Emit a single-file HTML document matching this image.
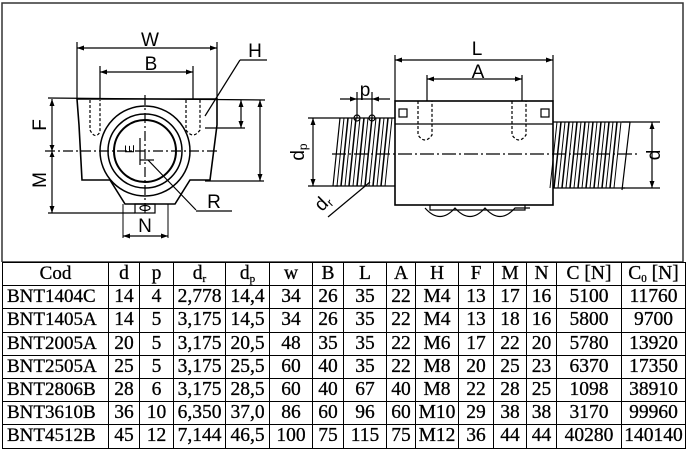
<!DOCTYPE html>
<html><head><meta charset="utf-8"><style>
html,body{margin:0;padding:0;background:#fff;width:686px;height:452px;overflow:hidden}
svg{position:absolute;left:0;top:0}
table{position:absolute;left:2px;top:262px;border-collapse:collapse;font-family:"Liberation Serif",serif;font-size:19.5px;color:#000;-webkit-text-stroke:0.3px #000}
td{border:1.3px solid #000;padding:0;height:22.2px;text-align:center;line-height:20px;white-space:nowrap}
td:first-child{text-align:left;padding-left:4px;font-size:19px}
sub{font-size:11px;vertical-align:-3px;line-height:0}
</style></head><body>
<svg width="686" height="262" viewBox="0 0 686 262" font-family="Liberation Sans, sans-serif">
<rect x="2" y="3" width="681" height="259" fill="none" stroke="#333" stroke-width="1.5"/>
<g stroke="#000" fill="none" stroke-width="1.2">
<line x1="77" y1="42" x2="77" y2="99"/><line x1="217" y1="42" x2="217" y2="99"/>
<line x1="77" y1="48" x2="217" y2="48"/>
<line x1="100" y1="66" x2="100" y2="99"/><line x1="193" y1="66" x2="193" y2="99"/>
<line x1="100" y1="72" x2="193" y2="72"/>
<line x1="48" y1="98" x2="265" y2="100"/>
<path d="M77 99 L217 99 L217 125 L210 180 L190 180 L175 204 L125 204 L110 180 L82 180 L79 125 Z" stroke-width="1.6"/>
<circle cx="145" cy="151" r="45" stroke-width="1.5"/>
<circle cx="145" cy="151" r="37" stroke-width="1.5"/>
<circle cx="145" cy="151" r="31" stroke-width="2"/>
<rect x="135" y="204" width="20" height="9"/>
<ellipse cx="145" cy="208" rx="5" ry="2.5"/>
<path d="M123 204 L123 238 M168 204 L168 238" stroke-width="1"/>
<line x1="123" y1="236" x2="168" y2="236"/>
<line x1="52" y1="99" x2="52" y2="213"/>
<line x1="48" y1="213" x2="135" y2="213"/>
<line x1="45" y1="151" x2="220" y2="151" stroke-dasharray="10 3 2 3"/>
<line x1="145" y1="95" x2="145" y2="215" stroke-dasharray="10 3 2 3"/>
<line x1="260" y1="100" x2="260" y2="181"/><line x1="205" y1="181" x2="264" y2="181"/>
<line x1="241" y1="100" x2="241" y2="128"/><line x1="205" y1="128" x2="245" y2="128"/>
<path d="M90 100 L90 130 Q95 140 100 132 L100 100 M186 100 L186 130 Q193 140 200 130 L200 100" stroke-dasharray="3 2"/>
<line x1="267" y1="60" x2="240" y2="60"/><line x1="240" y1="60" x2="205" y2="116"/>
<line x1="148" y1="160" x2="196" y2="210"/><line x1="196" y1="211" x2="232" y2="211"/>
<line x1="140" y1="160" x2="154" y2="160"/><line x1="140" y1="138" x2="140" y2="165"/>
<line x1="395" y1="55" x2="395" y2="101"/><line x1="553" y1="55" x2="553" y2="101"/>
<line x1="395" y1="60" x2="553" y2="60"/>
<line x1="427" y1="75" x2="427" y2="101"/><line x1="522" y1="75" x2="522" y2="101"/>
<line x1="427" y1="79" x2="522" y2="79"/>
<rect x="395" y="101" width="158" height="104" stroke-width="1.6"/>
<line x1="395" y1="124" x2="553" y2="124"/>
<path d="M418 101 L418 135 Q425 145 432 135 L432 101 M512 101 L512 135 Q519 145 526 135 L526 101" stroke-dasharray="3 2"/>
<line x1="332" y1="154" x2="640" y2="154" stroke-dasharray="14 3 2 3"/>
<path d="M340 118 L395 118 M335 186 L395 186 M553 122 L630 122 M553 188 L625 188"/>
<path d="M340 118 L333 186 M630 122 L622 190"/>
<path stroke-width="1.5" d="M348 118 L341 186 M356 118 L349 186 M364 118 L357 186 M372 118 L365 186 M380 118 L373 186 M388 118 L381 186 M561 122 L554 188 M569 122 L562 188 M577 122 L570 188 M585 122 L578 188 M593 122 L586 188 M601 122 L594 188 M609 122 L602 188 M617 122 L610 188"/>
<path stroke-width="1" d="M344 118 L337 186 M352 118 L345 186 M360 118 L353 186 M368 118 L361 186 M376 118 L369 186 M384 118 L377 186 M392 118 L385 186 M557 122 L550 188 M565 122 L558 188 M573 122 L566 188 M581 122 L574 188 M589 122 L582 188 M597 122 L590 188 M605 122 L598 188 M613 122 L606 188 M621 122 L614 188"/>
<line x1="313" y1="118" x2="313" y2="186"/><line x1="308" y1="118" x2="340" y2="118"/><line x1="308" y1="186" x2="338" y2="186"/>
<line x1="652" y1="122" x2="652" y2="188"/><line x1="622" y1="122" x2="660" y2="122"/><line x1="622" y1="188" x2="660" y2="188"/>
<line x1="340" y1="99" x2="390" y2="99"/><line x1="357" y1="92" x2="357" y2="118"/><line x1="372" y1="92" x2="372" y2="118"/>
<circle cx="357" cy="118" r="3"/><circle cx="372" cy="118" r="3"/>
<line x1="328" y1="217" x2="370" y2="182"/>
<path d="M425 208 Q440 225 455 208 Q470 225 485 208 Q500 225 515 208 L530 208"/>
<path d="M430 205 L430 210 L525 210 L525 205"/>
<rect x="399" y="109" width="8" height="8"/><rect x="541" y="109" width="8" height="8"/>
</g>
<g fill="#000">
<path d="M77 48 l7 -2.5 v5z M217 48 l-7 -2.5 v5z M100 72 l7 -2.5 v5z M193 72 l-7 -2.5 v5z M123 236 l7 -2.5 v5z M168 236 l-7 -2.5 v5z M52 99 l-2.5 7 h5z M52 213 l-2.5 -7 h5z M52 151 l-2.5 -6 h5z M52 151 l-2.5 6 h5z M260 100 l-2.5 7 h5z M260 181 l-2.5 -7 h5z M241 100 l-2.5 7 h5z M241 128 l-2.5 -7 h5z"/>
<path d="M395 60 l7 -2.5 v5z M553 60 l-7 -2.5 v5z M427 79 l7 -2.5 v5z M522 79 l-7 -2.5 v5z M313 118 l-2.5 7 h5z M313 186 l-2.5 -7 h5z M652 122 l-2.5 7 h5z M652 188 l-2.5 -7 h5z M357 99 l-7 -2.5 v5z M372 99 l7 -2.5 v5z"/>
</g>
<g font-size="19" fill="#000" text-anchor="middle">
<text x="150" y="46">W</text><text x="151" y="70">B</text>
<text x="255" y="57">H</text><text x="214" y="208">R</text>
<text x="145" y="232">N</text>
<text x="477" y="55">L</text><text x="478" y="78">A</text>
<text x="365" y="96">p</text>
<text transform="translate(46,125) rotate(-90)">F</text>
<text transform="translate(46,180) rotate(-90)">M</text>
<text transform="translate(304,152) rotate(-90)">d<tspan font-size="12" dy="3">p</tspan></text>
<text transform="translate(660,155) rotate(-90)">d</text>
<text transform="translate(327,207) rotate(-45)">d<tspan font-size="12" dy="3">r</tspan></text>
<text font-size="13" transform="translate(134,149) rotate(-90)">E</text>
</g>
</svg>
<table>
<colgroup><col style="width:106px"><col style="width:31px"><col style="width:34px"><col style="width:52px"><col style="width:44px"><col style="width:43px"><col style="width:31px"><col style="width:43px"><col style="width:29px"><col style="width:43px"><col style="width:35px"><col style="width:33px"><col style="width:30px"><col style="width:65px"><col style="width:64px"></colgroup>
<tr><td style="text-align:center;padding:0">Cod</td><td>d</td><td>p</td><td>d<sub>r</sub></td><td>d<sub>p</sub></td><td>w</td><td>B</td><td>L</td><td>A</td><td>H</td><td>F</td><td>M</td><td>N</td><td>C [N]</td><td>C<sub>0</sub> [N]</td></tr>
<tr><td>BNT1404C</td><td>14</td><td>4</td><td>2,778</td><td>14,4</td><td>34</td><td>26</td><td>35</td><td>22</td><td>M4</td><td>13</td><td>17</td><td>16</td><td>5100</td><td>11760</td></tr>
<tr><td>BNT1405A</td><td>14</td><td>5</td><td>3,175</td><td>14,5</td><td>34</td><td>26</td><td>35</td><td>22</td><td>M4</td><td>13</td><td>18</td><td>16</td><td>5800</td><td>9700</td></tr>
<tr><td>BNT2005A</td><td>20</td><td>5</td><td>3,175</td><td>20,5</td><td>48</td><td>35</td><td>35</td><td>22</td><td>M6</td><td>17</td><td>22</td><td>20</td><td>5780</td><td>13920</td></tr>
<tr><td>BNT2505A</td><td>25</td><td>5</td><td>3,175</td><td>25,5</td><td>60</td><td>40</td><td>35</td><td>22</td><td>M8</td><td>20</td><td>25</td><td>23</td><td>6370</td><td>17350</td></tr>
<tr><td>BNT2806B</td><td>28</td><td>6</td><td>3,175</td><td>28,5</td><td>60</td><td>40</td><td>67</td><td>40</td><td>M8</td><td>22</td><td>28</td><td>25</td><td>1098</td><td>38910</td></tr>
<tr><td>BNT3610B</td><td>36</td><td>10</td><td>6,350</td><td>37,0</td><td>86</td><td>60</td><td>96</td><td>60</td><td>M10</td><td>29</td><td>38</td><td>38</td><td>3170</td><td>99960</td></tr>
<tr><td>BNT4512B</td><td>45</td><td>12</td><td>7,144</td><td>46,5</td><td>100</td><td>75</td><td>115</td><td>75</td><td>M12</td><td>36</td><td>44</td><td>44</td><td>40280</td><td>140140</td></tr>
</table>
</body></html>
